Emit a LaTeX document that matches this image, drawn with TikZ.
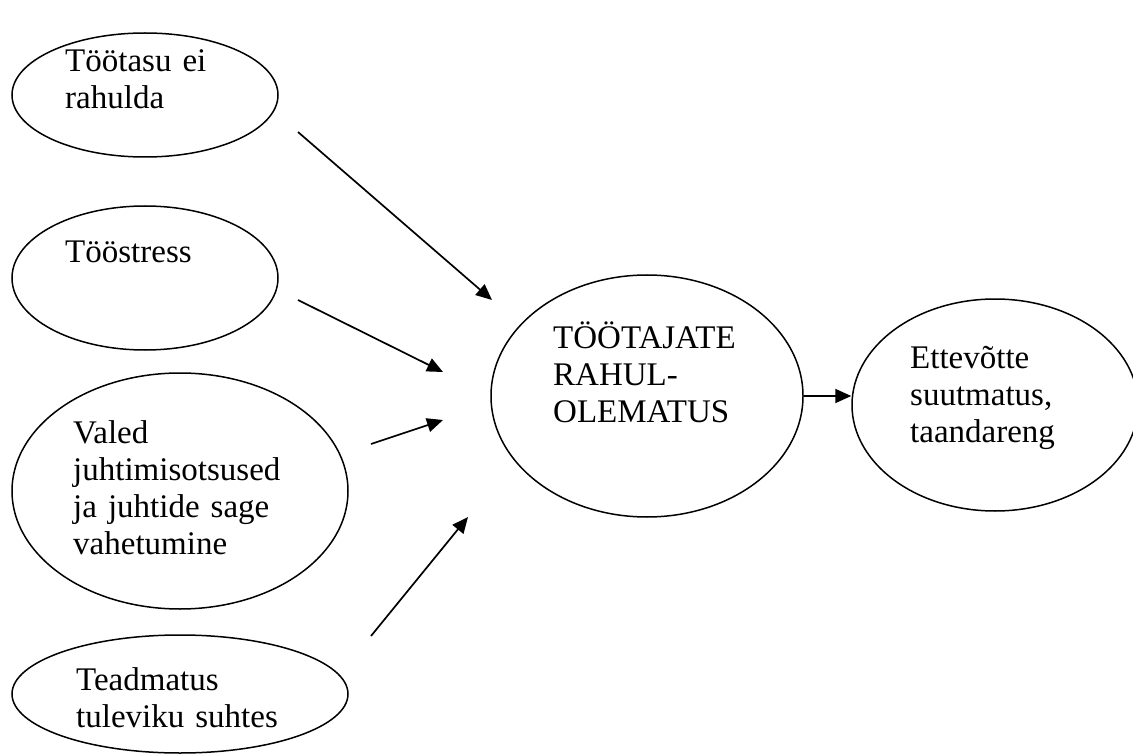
\documentclass[tikz,border=0pt]{standalone}
\usepackage{fontspec}
\setmainfont{Liberation Serif}
\usetikzlibrary{arrows.meta,positioning,shapes.geometric}

\begin{document}
\begin{tikzpicture}[x=1pt,y=-1pt,
    bubble/.style={draw,ellipse,line width=1.5pt,inner sep=0pt},
    words/.style={anchor=base west,inner sep=0pt,align=left,text width=260pt,font=\fontsize{33}{37}\selectfont},
    link/.style={line width=1.7pt,-{Triangle[length=16pt,width=14pt]}}]
  \useasboundingbox (0,0) rectangle (1133,754);
  % causes
  \node[bubble,minimum width=266pt,minimum height=124pt] (pay) at (145,95) {};
  \node[bubble,minimum width=266pt,minimum height=144pt] (stress) at (145,278) {};
  \node[bubble,minimum width=336pt,minimum height=236pt] (mgmt) at (180,491) {};
  \node[bubble,minimum width=336pt,minimum height=118pt] (future) at (180,694) {};
  % effect and outcome
  \node[bubble,minimum width=312pt,minimum height=242pt] (dissat) at (647,396) {};
  \node[bubble,minimum width=286pt,minimum height=212pt] (decline) at (995,405) {};
  % texts
  \node[words] (paytext) at (65,72) {Töötasu ei\\rahulda};
  \node[words] (stresstext) at (65,263) {Tööstress};
  \node[words] (mgmttext) at (73,443) {Valed\\juhtimisotsused\\ja juhtide sage\\vahetumine};
  \node[words] (futuretext) at (76,690) {Teadmatus\\tuleviku suhtes};
  \node[words] (dissattext) at (553,348) {TÖÖTAJATE\\RAHUL-\\OLEMATUS};
  \node[words] (declinetext) at (910,368) {Ettevõtte\\suutmatus,\\taandareng};
  % arrow ends
  \coordinate (payout) at (298,132);
  \coordinate (payin) at (492,300);
  \coordinate (stressout) at (298,300);
  \coordinate (stressin) at (443,372);
  \coordinate (mgmtout) at (371,444);
  \coordinate (mgmtin) at (443,420);
  \coordinate (futureout) at (371,636);
  \coordinate (futurein) at (468,517);
  % connectors
  \foreach \n in {pay,stress,mgmt,future} {\draw[link] (\n out) -- (\n in);}
  \draw[link] (dissat.east) -- (dissat.east -| decline.west);
\end{tikzpicture}
\end{document}
